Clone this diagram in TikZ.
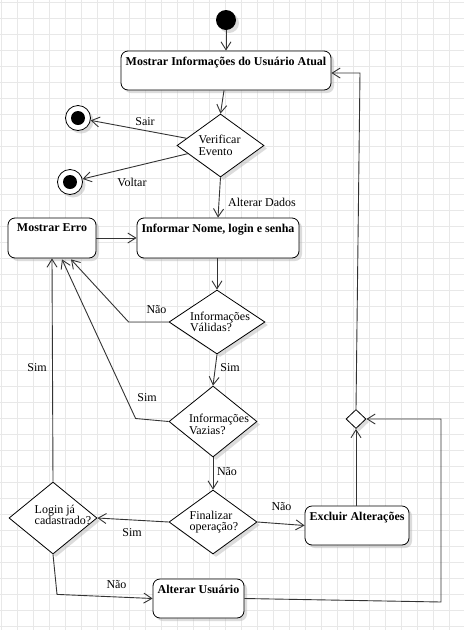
\documentclass[tikz,border=0pt]{standalone}
\usepackage{fontspec}
\setmainfont{Liberation Serif}
\usetikzlibrary{shapes.geometric,arrows.meta,shadows,calc}
\definecolor{gridc}{HTML}{E8E8E8}
\definecolor{linec}{HTML}{333333}
\begin{document}
\begin{tikzpicture}[x=1pt,y=-1pt,
  every node/.style={font=\fontsize{12}{12}\selectfont},
  shadowed/.style={drop shadow={shadow xshift=3pt,shadow yshift=-3pt,fill=black!30,opacity=0.45}},
  actbox/.style={draw=black,line width=0.8pt,fill=white,rounded corners=7pt,shadowed,inner sep=0pt},
  boxtext/.style={anchor=north,inner sep=0pt,yshift=-6.5pt,font=\bfseries\fontsize{12}{12}\selectfont},
  decision/.style={diamond,draw=black,line width=0.8pt,fill=white,inner sep=0pt,shadowed},
  dtext/.style={align=left,inner sep=0pt,font=\fontsize{12}{11.5}\selectfont},
  endstate/.style={circle,draw=black,line width=0.8pt,fill=white,minimum size=25pt,inner sep=0pt,shadowed},
  flow/.style={draw=linec,line width=0.9pt,-{Straight Barb[length=8pt,width=10pt]}},
  lbl/.style={inner sep=0pt,font=\fontsize{12}{12}\selectfont},
]
\useasboundingbox (0,0) rectangle (464,630);
\fill[white] (0,0) rectangle (464,630);
% grid
\foreach \x in {1,17,...,465} \draw[gridc,line width=0.8pt] (\x,0) -- (\x,630);
\foreach \y in {2,18,...,630} \draw[gridc,line width=0.8pt] (0,\y) -- (464,\y);

% nodes
\node[circle,fill=black,minimum size=20pt,inner sep=0pt,shadowed] (st) at (226,20) {};
\node[actbox,minimum width=210pt,minimum height=39pt,
  label={[boxtext]north:Mostrar Informações do Usuário Atual}] (b1) at (226,70.5) {};
\node[decision,minimum width=87pt,minimum height=63pt,
  label={[dtext,xshift=-1pt]center:{Verificar\\Evento}}] (d1) at (220.5,145.5) {};
\node[endstate] (e1) at (78,118) {};
\fill[black] (e1.center) circle[radius=7pt];
\node[endstate] (e2) at (70,182) {};
\fill[black] (e2.center) circle[radius=7pt];
\node[actbox,minimum width=162pt,minimum height=40pt,
  label={[boxtext]north:Informar Nome, login e senha}] (b2) at (218,238) {};
\node[actbox,minimum width=88pt,minimum height=40pt,
  label={[boxtext,yshift=1pt]north:Mostrar Erro}] (erro) at (52,238) {};
\node[decision,minimum width=96pt,minimum height=64pt,
  label={[dtext,xshift=3pt]center:{Informações\\Válidas?}}] (d2) at (217,322) {};
\node[decision,minimum width=88pt,minimum height=71pt,
  label={[dtext,xshift=6pt,yshift=-3pt]center:{Informações\\Vazias?}}] (d3) at (213,421.5) {};
\node[decision,minimum width=88pt,minimum height=64pt,
  label={[dtext,xshift=1pt]center:{Finalizar\\operação?}}] (d4) at (213,522) {};
\node[decision,minimum width=88pt,minimum height=72pt,
  label={[dtext,xshift=10pt,yshift=3pt]center:{Login já\\cadastrado?}}] (d5) at (53,518) {};
\node[actbox,minimum width=104pt,minimum height=39pt,
  label={[boxtext]north:Excluir Alterações}] (excl) at (357,525.5) {};
\node[actbox,minimum width=91pt,minimum height=39pt,
  label={[boxtext]north:Alterar Usuário}] (alt) at (198.5,598.5) {};
\node[decision,minimum width=20pt,minimum height=19pt] (sd) at (356,419) {};

\coordinate (c1) at (360,73);
\coordinate (c2) at (441,602);
\coordinate (c3) at (441,419);

% connectors
\draw[flow] (st) -- (st |- b1.north);
\draw[flow] ($(b1.south)+(-2,0)$) -- (d1.north);
\draw[flow] (d1.168) -- (e1);
\draw[flow] (d1.194) -- (e2);
\draw[flow] (d1.south) -- (b2.north);
\draw[flow] (erro.east) -- (b2.west);
\draw[flow] (b2.south -| d2.north) -- (d2.north);
\draw[flow] (d2.west) -- ++(-40,0) -- ($(erro.south)+(19,1)$);
\draw[flow] (d2.south) -- (d3.north);
\draw[flow] (d3.west) -- ++(-33,-3) -- ($(erro.south)+(10,1)$);
\draw[flow] (d3.south) -- (d4.north);
\draw[flow] (d4.west) -- (d5.east);
\draw[flow] (d5.north) -- (erro.south);
\draw[flow] (d4.east) -- (excl.west);
\draw[flow] (excl.north -| sd.south) -- (sd.south);
\draw[flow] (sd.north) -- (c1) -- (c1 -| b1.east);
\draw[flow] (d5.south) -- ++(4,40) -- (alt.west);
\draw[flow] (alt.east) -- (c2) -- (c3) -- (sd.east);

% labels
\node[lbl] (lsair) at (145,122) {Sair};
\node[lbl] (lvoltar) at (132,182) {Voltar};
\node[lbl] (lalt) at (262,202) {Alterar Dados};
\node[lbl] (lnao1) at (156.5,310) {Não};
\node[lbl] (lsim1) at (230,368) {Sim};
\node[lbl] (lsim2) at (147,398) {Sim};
\node[lbl] (lsim3) at (37,368) {Sim};
\node[lbl] (lnao2) at (227,472) {Não};
\node[lbl] (lnao3) at (281.5,507) {Não};
\node[lbl] (lsim4) at (132,533) {Sim};
\node[lbl] (lnao4) at (116.5,585) {Não};
\end{tikzpicture}
\end{document}
